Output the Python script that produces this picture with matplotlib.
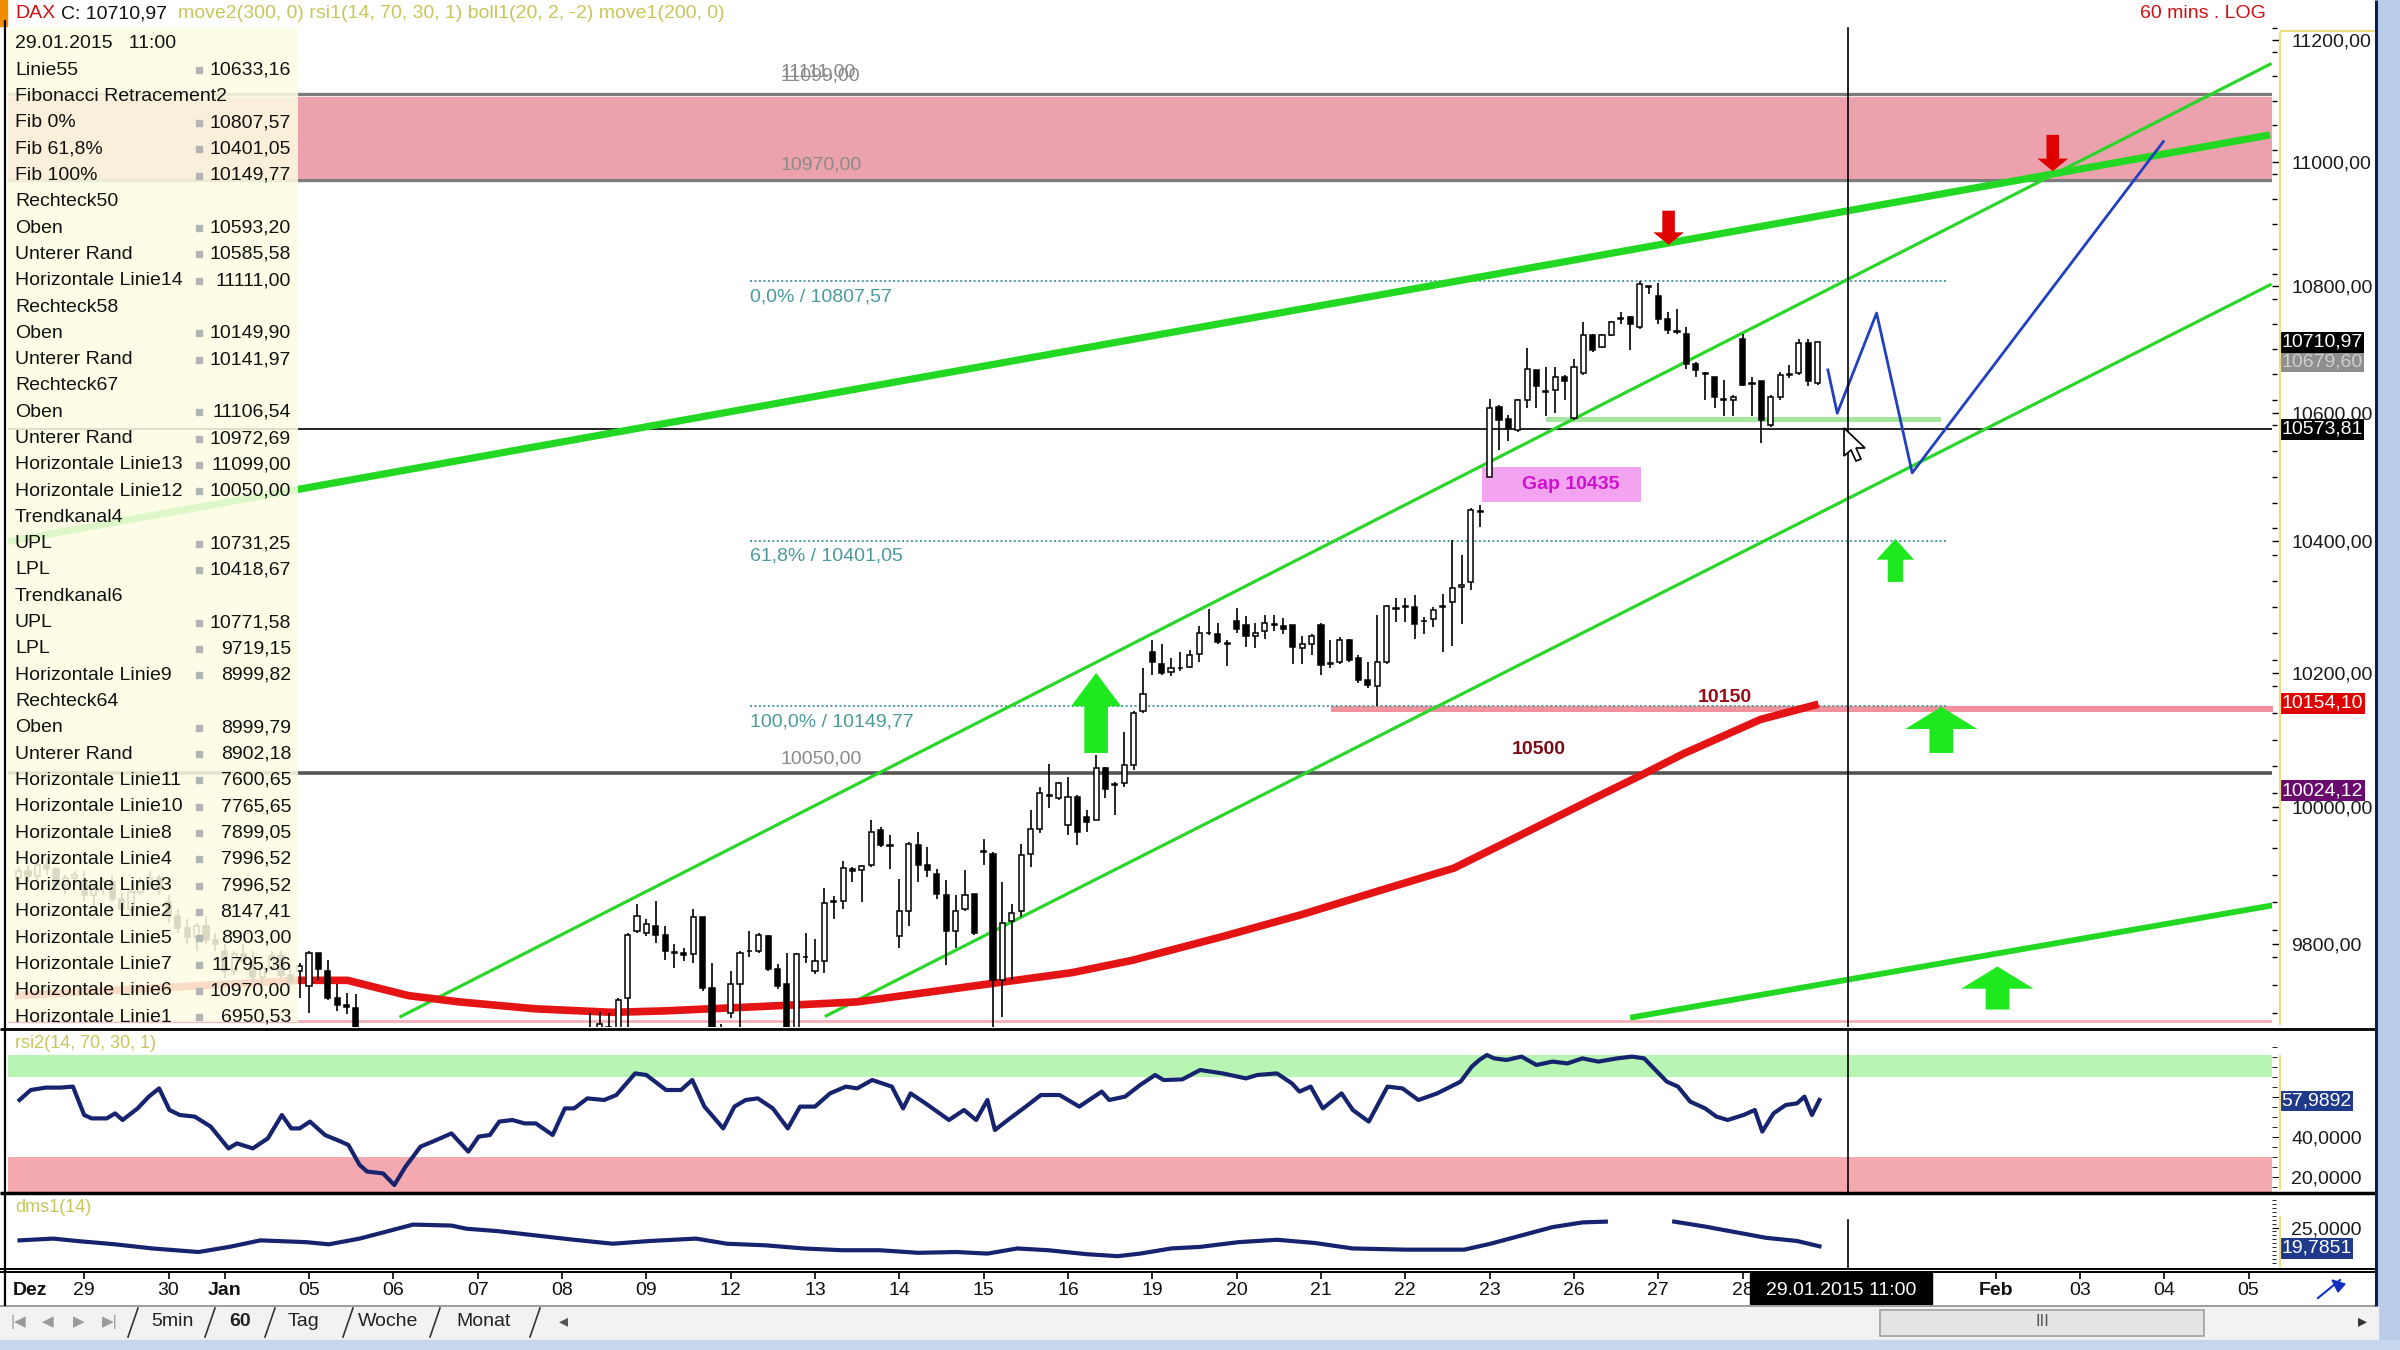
import matplotlib
matplotlib.use("Agg")
import matplotlib.pyplot as plt
from matplotlib.patches import Rectangle, Polygon
from matplotlib.ticker import FixedLocator, FuncFormatter, NullFormatter
from matplotlib.transforms import blended_transform_factory
import numpy as np

plt.rcParams['font.family'] = ['Liberation Sans', 'DejaVu Sans']
plt.rcParams['font.size'] = 14

# ---- hourly candles, x = bar number (Dez 29 09:00 = 0, 9 bars per day) ----
candle_bar = list(range(-7, 30)) + list(range(54, 186))
candle_open = [9895, 9905, 9898, 9915, 9908, 9885, 9895,
               9890, 9870, 9880, 9890, 9865, 9850, 9875, 9890, 9895,
               9860, 9840, 9822, 9810, 9825, 9805,
               9790, 9760, 9785, 9775, 9752, 9765, 9782, 9755, 9760,
               9739, 9787, 9760, 9722, 9712, 9707,
               9650, 9668, 9680, 9660, 9722, 9818,
               9816, 9826, 9813, 9788, 9786, 9785, 9838, 9736, 9670,
               9700, 9741, 9789, 9789, 9811, 9763, 9741, 9670, 9780,
               9760, 9775, 9860, 9862, 9908, 9907, 9914, 9966, 9944,
               9811, 9848, 9944, 9914, 9902, 9870, 9818, 9850, 9872,
               9935, 9931, 9747, 9833, 9847, 9931, 9968, 10016, 10013,
               9973, 10015, 9985, 9981, 10057, 10034, 10035, 10062, 10143,
               10232, 10214, 10202, 10207, 10209, 10229, 10260, 10259, 10244,
               10278, 10273, 10256, 10264, 10273, 10271, 10273, 10237, 10244,
               10273, 10215, 10217, 10249, 10222, 10190, 10180, 10217, 10297,
               10300, 10300, 10278, 10282, 10300, 10307, 10330, 10338, 10446,
               10500, 10609, 10590, 10573, 10620, 10667, 10633, 10636, 10656,
               10591, 10662, 10722, 10703, 10722, 10748, 10750, 10735, 10800,
               10784, 10748, 10727, 10724, 10677, 10662, 10656, 10620, 10620,
               10716, 10646, 10649, 10581, 10625, 10659, 10662, 10709, 10646]
candle_high = [9912, 9915, 9920, 9925, 9912, 9900, 9905,
               9905, 9885, 9895, 9900, 9875, 9880, 9895, 9905, 9900,
               9870, 9850, 9835, 9830, 9840, 9815,
               9800, 9790, 9800, 9790, 9770, 9790, 9790, 9770, 9772,
               9789, 9787, 9777, 9741, 9729, 9727,
               9700, 9702, 9700, 9722, 9816, 9857,
               9835, 9862, 9826, 9799, 9794, 9850, 9838, 9772, 9684,
               9760, 9789, 9818, 9816, 9813, 9770, 9787, 9787, 9816,
               9806, 9881, 9869, 9920, 9912, 9914, 9980, 9971, 9958,
               9894, 9948, 9963, 9941, 9909, 9892, 9870, 9907, 9872,
               9953, 9934, 9889, 9857, 9946, 9995, 10030, 10064, 10037,
               10045, 10017, 9995, 10077, 10059, 10037, 10111, 10143, 10208,
               10249, 10244, 10222, 10232, 10234, 10271, 10296, 10276, 10249,
               10298, 10286, 10276, 10288, 10288, 10283, 10273, 10256, 10259,
               10276, 10249, 10254, 10251, 10227, 10217, 10288, 10303, 10313,
               10313, 10318, 10284, 10300, 10320, 10402, 10379, 10451, 10456,
               10622, 10612, 10596, 10622, 10701, 10667, 10672, 10672, 10659,
               10685, 10743, 10724, 10724, 10745, 10758, 10753, 10808, 10800,
               10805, 10758, 10763, 10735, 10680, 10664, 10656, 10651, 10628,
               10724, 10656, 10649, 10628, 10664, 10675, 10716, 10716, 10709]
candle_low = [9880, 9890, 9892, 9900, 9880, 9872, 9885,
              9860, 9855, 9870, 9860, 9840, 9845, 9870, 9880, 9870,
              9830, 9815, 9800, 9790, 9800, 9790,
              9750, 9755, 9770, 9745, 9740, 9760, 9750, 9735, 9722,
              9700, 9748, 9719, 9703, 9698, 9640,
              9640, 9660, 9655, 9650, 9675, 9816,
              9811, 9801, 9777, 9765, 9775, 9772, 9732, 9640, 9640,
              9693, 9660, 9780, 9787, 9760, 9734, 9650, 9650, 9772,
              9756, 9758, 9835, 9850, 9889, 9860, 9912, 9941, 9909,
              9793, 9825, 9889, 9897, 9865, 9769, 9793, 9848, 9813,
              9914, 9675, 9695, 9747, 9838, 9912, 9961, 9998, 10010,
              9958, 9944, 9963, 9981, 10013, 9988, 10030, 10054, 10140,
              10197, 10197, 10195, 10203, 10207, 10217, 10258, 10244, 10210,
              10261, 10239, 10237, 10251, 10264, 10259, 10214, 10214, 10227,
              10197, 10207, 10214, 10217, 10185, 10177, 10150, 10214, 10277,
              10277, 10251, 10259, 10269, 10231, 10241, 10274, 10325, 10423,
              10500, 10542, 10555, 10570, 10607, 10607, 10594, 10599, 10620,
              10589, 10659, 10696, 10701, 10720, 10740, 10698, 10732, 10787,
              10740, 10724, 10724, 10669, 10656, 10620, 10607, 10594, 10594,
              10641, 10594, 10552, 10578, 10620, 10654, 10659, 10641, 10643]
candle_close = [9905, 9898, 9915, 9908, 9885, 9895, 9900,
                9870, 9880, 9890, 9865, 9850, 9875, 9890, 9895, 9880,
                9840, 9822, 9810, 9825, 9805, 9800,
                9760, 9785, 9775, 9752, 9765, 9782, 9755, 9745, 9768,
                9787, 9763, 9722, 9712, 9708, 9650,
                9670, 9685, 9672, 9719, 9813, 9840,
                9828, 9813, 9789, 9786, 9784, 9838, 9736, 9660, 9655,
                9741, 9787, 9790, 9813, 9763, 9739, 9670, 9785, 9781,
                9775, 9859, 9862, 9910, 9906, 9913, 9963, 9944, 9943,
                9848, 9946, 9914, 9907, 9872, 9818, 9848, 9870, 9816,
                9934, 9747, 9830, 9845, 9929, 9968, 10020, 10017, 10035,
                10015, 9963, 9978, 10057, 10027, 10032, 10062, 10140, 10168,
                10217, 10200, 10207, 10208, 10227, 10261, 10261, 10246, 10245,
                10266, 10256, 10261, 10276, 10274, 10266, 10239, 10244, 10256,
                10212, 10214, 10249, 10219, 10190, 10182, 10217, 10301, 10298,
                10301, 10274, 10279, 10295, 10301, 10328, 10334, 10448, 10447,
                10607, 10589, 10576, 10620, 10668, 10641, 10634, 10656, 10649,
                10672, 10722, 10698, 10722, 10743, 10749, 10740, 10803, 10798,
                10748, 10730, 10728, 10677, 10667, 10661, 10625, 10621, 10624,
                10643, 10645, 10589, 10625, 10659, 10660, 10709, 10649, 10711]

# moving average move1(200)
ma_bar = [-7.4, 22.9, 28.1, 34.6, 40.0, 48.2, 56.4, 61.8, 76.5, 82.5, 97.2, 105.4,
          111.9, 121.7, 129.9, 138.0, 146.2, 152.8, 160.9, 166.6, 170.7, 178.9, 185.1]
ma_val = [9725, 9747, 9747, 9725, 9716, 9706, 9701, 9703, 9712, 9716, 9743, 9758,
          9776, 9811, 9842, 9876, 9910, 9955, 10011, 10050, 10079, 10130, 10153]

# trend lines (bar, value) end points
trend_thick_bar = [-8.1, 233.3]
trend_thick_val = [10400, 11044]
chan_upper_bar = [33.8, 233.3]
chan_upper_val = [9695, 11160]
chan_lower_bar = [79.2, 233.3]
chan_lower_val = [9696, 10802]
trend_low_bar = [165.3, 233.3]
trend_low_val = [9694, 9855]

# hand drawn forecast
proj_bar = [186.1, 187.1, 191.3, 195.1, 221.9]
proj_val = [10667, 10599, 10757, 10506, 11033]

# levels
fib_vals = [10807.57, 10401.05, 10149.77]
fib_labels = ['0,0% / 10807,57', '61,8% / 10401,05', '100,0% / 10149,77']
fib_range = [71.1, 198.8]
gray_levels = [11111.00, 11099.00, 10970.00]
rect67 = [10972.69, 11106.54]
rect58 = [10141.97, 10149.90]
rect50 = [10585.58, 10593.20]
level12 = 10050.00
last_line = 10573.81
gap_box = [149.2, 166.2, 10461, 10515]

up_bar = [108.0, 193.3, 198.2, 204.2]
up_from = [10080, 10338, 10080, 9705]
up_to = [10200, 10404, 10149, 9767]
down_bar = [169.1, 210.1]
down_from = [10921, 11044]
down_to = [10866, 10985]

# rsi2(14,70,30,1)
rsi_bar = [-6.9, -5.7, -4.1, -2.5, -1.2, 0.0, 0.8, 2.4, 3.3, 4.1, 5.7, 6.9, 8.0, 9.1, 10.2,
           11.8, 13.5, 15.4, 16.3, 18.0, 19.6, 21.1, 22.1, 23.0, 24.1, 25.7, 27.4, 28.2,
           29.4, 30.2, 31.9, 33.1, 34.3, 35.9, 37.2, 39.2, 41.0, 42.1, 43.3, 44.3, 45.7,
           47.0, 48.2, 50.0, 51.3, 52.3, 53.7, 55.5, 56.8, 58.8, 60.0, 62.1, 63.7, 64.9,
           66.2, 68.2, 69.4, 70.6, 71.9, 73.5, 75.1, 76.4, 78.0, 79.6, 81.3, 82.5, 84.1,
           86.2, 87.4, 88.2, 89.8, 92.3, 93.9, 95.2, 96.4, 97.2, 98.8, 100.5, 102.1,
           104.1, 106.2, 107.0, 108.6, 109.4, 111.1, 112.7, 114.3, 115.2, 117.2, 119.1,
           121.5, 124.0, 125.2, 127.3, 128.9, 129.7, 130.9, 132.2, 134.2, 135.4, 137.1,
           139.1, 140.7, 142.4, 144.4, 146.9, 148.1, 148.9, 149.7, 150.5, 151.8, 153.4,
           155.0, 156.7, 158.3, 159.9, 161.6, 163.6, 165.2, 166.5, 167.7, 168.9, 170.1,
           171.4, 173.0, 174.2, 175.4, 177.1, 178.3, 179.1, 180.3, 181.6, 182.8, 183.6,
           184.4, 185.2]
rsi_val = [58.5, 63.5, 64.7, 64.7, 65.2, 51.0, 49.3, 49.3, 51.8, 48.5, 54.3, 60.2, 64.3,
           53.5, 51.0, 50.2, 45.2, 34.3, 36.8, 34.3, 39.3, 51.0, 44.3, 44.3, 47.7, 41.0,
           37.7, 36.0, 26.0, 22.7, 21.8, 16.0, 25.2, 35.2, 37.7, 41.8, 32.7, 40.2, 41.0,
           47.7, 48.5, 46.8, 46.8, 41.0, 54.3, 54.3, 59.3, 58.5, 61.0, 71.8, 71.0, 63.5,
           63.5, 68.5, 55.2, 44.3, 55.2, 58.5, 59.3, 54.3, 44.3, 55.2, 55.2, 61.8, 65.2,
           64.3, 68.5, 65.2, 54.3, 61.8, 56.8, 48.5, 53.5, 48.5, 58.5, 43.5, 49.3, 55.2,
           61.0, 61.0, 55.2, 57.7, 62.7, 58.5, 60.2, 66.0, 71.0, 68.5, 68.8, 73.5, 71.8,
           69.3, 71.0, 71.8, 66.8, 62.7, 65.2, 54.3, 61.8, 53.5, 47.7, 65.2, 64.3, 58.5,
           61.8, 67.7, 75.2, 78.5, 81.0, 79.3, 78.5, 80.2, 76.0, 77.7, 76.8, 79.3, 77.7,
           79.3, 80.2, 79.3, 73.5, 67.7, 65.2, 57.7, 54.3, 50.2, 48.5, 51.0, 53.5, 42.7,
           51.8, 56.0, 56.8, 60.2, 51.0, 58.5]

# dms1(14)
dms_bar = [-6.9, -3.3, -0.8, 3.3, 7.3, 12.2, 15.5, 18.8, 23.7, 26.1, 29.4, 32.7, 35.1,
           39.2, 40.8, 44.1, 48.2, 52.3, 56.4, 60.4, 65.3, 68.6, 72.7, 76.8, 80.9, 84.9,
           89.0, 93.1, 96.4, 99.6, 102.9, 107.0, 110.3, 112.7, 116.0, 119.1, 123.2,
           127.3, 131.3, 135.4, 141.1, 147.3, 150.1, 153.4, 156.7, 159.9, 162.4, 166.0,
           169.7, 173.0, 176.3, 179.5, 182.8, 185.2]
dms_val = [21.75, 22.2, 21.6, 20.75, 19.7, 18.8, 20.1, 21.75, 21.3, 20.75, 22.2, 24.25,
           25.75, 25.5, 24.7, 24.1, 23.0, 21.9, 20.9, 21.6, 22.2, 20.9, 20.5, 19.7, 19.25,
           19.25, 18.6, 18.8, 18.4, 19.7, 19.25, 18.25, 17.75, 18.4, 19.7, 20.1, 21.3,
           21.9, 21.1, 19.7, 19.4, 19.4, 20.9, 23.0, 25.1, 26.3, 26.5, np.nan, 26.5,
           25.25, 23.8, 22.4, 21.6, 20.25]

# day labels (29 and 30 Jan sit under the cursor date box)
day_bar = [-5.8, 0, 9, 15, 24, 33, 42, 51, 60, 69, 78, 87, 96, 105, 114, 123, 132, 141,
           150, 159, 168, 177, 204, 213, 222, 231]
day_lab = ['Dez', '29', '30', 'Jan', '05', '06', '07', '08', '09', '12', '13', '14', '15',
           '16', '19', '20', '21', '22', '23', '26', '27', '28', 'Feb', '03', '04', '05']
day_ticks = [0, 9, 15, 24, 33, 42, 51, 60, 69, 78, 87, 96, 105, 114, 123, 132, 141, 150,
             159, 168, 177, 186, 195, 204, 213, 222, 231]
cursor_bar = 188.3

legend_rows = [
    ('29.01.2015   11:00', ''), ('Linie55', '10633,16'), ('Fibonacci Retracement2', ''),
    ('Fib 0%', '10807,57'), ('Fib 61,8%', '10401,05'), ('Fib 100%', '10149,77'),
    ('Rechteck50', ''), ('Oben', '10593,20'), ('Unterer Rand', '10585,58'),
    ('Horizontale Linie14', '11111,00'), ('Rechteck58', ''), ('Oben', '10149,90'),
    ('Unterer Rand', '10141,97'), ('Rechteck67', ''), ('Oben', '11106,54'),
    ('Unterer Rand', '10972,69'), ('Horizontale Linie13', '11099,00'),
    ('Horizontale Linie12', '10050,00'), ('Trendkanal4', ''), ('UPL', '10731,25'),
    ('LPL', '10418,67'), ('Trendkanal6', ''), ('UPL', '10771,58'), ('LPL', '9719,15'),
    ('Horizontale Linie9', '8999,82'), ('Rechteck64', ''), ('Oben', '8999,79'),
    ('Unterer Rand', '8902,18'), ('Horizontale Linie11', '7600,65'),
    ('Horizontale Linie10', '7765,65'), ('Horizontale Linie8', '7899,05'),
    ('Horizontale Linie4', '7996,52'), ('Horizontale Linie3', '7996,52'),
    ('Horizontale Linie2', '8147,41'), ('Horizontale Linie5', '8903,00'),
    ('Horizontale Linie7', '11795,36'), ('Horizontale Linie6', '10970,00'),
    ('Horizontale Linie1', '6950,53')]

price_boxes = [10679.60, 10710.97, 10573.81, 10154.10, 10024.12]
price_box_bg = ['#8E8E8E', 'black', 'black', '#E00000', '#6A0A6E']
price_box_fg = ['#CFCFCF', 'white', 'white', 'white', 'white']


def de(dec):
    return FuncFormatter(lambda v, p: f"{v:.{dec}f}".replace('.', ','))


W, H = 2400, 1350
fig = plt.figure(figsize=(24, 13.5), dpi=100)
fig.patch.set_facecolor('white')


def box(x0, y0, x1, y1):
    return [x0 / W, 1 - y1 / H, (x1 - x0) / W, (y1 - y0) / H]


ax = fig.add_axes(box(8, 2, 2272, 1027))
ax_rsi = fig.add_axes(box(8, 1031, 2272, 1192), sharex=ax)
ax_dms = fig.add_axes(box(8, 1194, 2272, 1268), sharex=ax)
ax_t = fig.add_axes(box(8, 1272, 2272, 1305), sharex=ax)

ax.set_yscale('log')
ax.set_xlim(-8.13, 233.5)
ax.set_ylim(9680, 11263)

for a in (ax, ax_rsi, ax_dms, ax_t):
    for s in a.spines.values():
        s.set_visible(False)
    a.tick_params(axis='x', bottom=False, top=False, labelbottom=False)

# ---- main panel ----
ax.hlines(gray_levels, -9, 240, colors='#7C7C7C', lw=2.4, zorder=2)
ax.axhspan(rect67[0], rect67[1], color='#EBA2AC', lw=0, zorder=2.5)
ax.axhline(level12, color='#555555', lw=2.6, zorder=2)
ax.axhline(last_line, color='black', lw=1.2, zorder=2)
ax.axhline(9688, color='#F2B0B8', lw=2, zorder=2)
ax.fill_between([133.1, 240], rect58[0], rect58[1], color='#F2919E', lw=0, zorder=2)
ax.fill_between([156.0, 198.2], rect50[0], rect50[1], color='#A6E6A0', lw=0, zorder=2)

ax.hlines(fib_vals, fib_range[0], fib_range[1], colors='#4C9CA0', linestyles=(0, (1, 1.3)), lw=1.4, zorder=3)
for v, t in zip(fib_vals, fib_labels):
    ax.annotate(t, (fib_range[0], v), xytext=(0, -5), textcoords='offset points',
                color='#4A9A9E', fontsize=14, va='top', ha='left', zorder=4)
for v, t, dy in zip(gray_levels + [level12], ['11111,00', '11099,00', '10970,00', '10050,00'],
                    [10, 12, 5, 4]):
    ax.annotate(t, (74.3, v), xytext=(0, dy), textcoords='offset points',
                color='#8A8A8A', fontsize=14, va='bottom', ha='left', zorder=4)

ax.add_patch(Rectangle((gap_box[0], gap_box[2]), gap_box[1] - gap_box[0], gap_box[3] - gap_box[2],
                       color='#F2A4F0', lw=0, zorder=3))
ax.text((gap_box[0] + gap_box[1]) / 2 + 1, np.sqrt(gap_box[2] * gap_box[3]), 'Gap 10435',
        color='#D010D0', fontsize=14, fontweight='bold', ha='center', va='center', zorder=8)

ax.plot(trend_thick_bar, trend_thick_val, color='#22D822', lw=5.2, zorder=4, solid_capstyle='butt')
ax.plot(chan_upper_bar, chan_upper_val, color='#2AD62A', lw=2.3, zorder=4)
ax.plot(chan_lower_bar, chan_lower_val, color='#2AD62A', lw=2.3, zorder=4)
ax.plot(trend_low_bar, trend_low_val, color='#22D822', lw=4.2, zorder=4)

ax.plot(ma_bar, ma_val, color='#E51414', lw=5.5, zorder=4.5, solid_capstyle='butt')

cb = np.array(candle_bar, dtype=float)
co = np.array(candle_open, dtype=float)
ch = np.array(candle_high, dtype=float)
cl = np.array(candle_low, dtype=float)
cc = np.array(candle_close, dtype=float)
ax.vlines(cb, cl, ch, color='black', lw=1.2, zorder=5)
lo = np.minimum(co, cc)
hgt = np.maximum(np.abs(cc - co), 0.8)
ax.bar(cb, hgt, bottom=lo, width=0.55, color=np.where(cc >= co, 'white', 'black'),
       edgecolor='black', linewidth=1.1, zorder=6)

ax.plot(proj_bar, proj_val, color='#2040C0', lw=2, zorder=7)

ax.text(175.1, 10150, '10150', color='#9A0A14', fontsize=14, fontweight='bold', ha='center',
        va='bottom', zorder=8)
ax.text(155.2, 10085, '10500', color='#7A0A14', fontsize=14, fontweight='bold', ha='center',
        va='center', zorder=8)

for b, f, t in zip(up_bar, up_from, up_to):
    if b < 120:
        hw, hl, tw = 36, 24, 17
    elif b < 195:
        hw, hl, tw = 27, 15, 11
    else:
        hw, hl, tw = 52, 16, 17
    ax.annotate('', xy=(b, t), xytext=(b, f),
                arrowprops=dict(arrowstyle=f'simple,head_length={hl},head_width={hw},tail_width={tw}',
                                fc='#1EE81E', ec='none', shrinkA=0, shrinkB=0, mutation_scale=1),
                zorder=8)
for b, f, t in zip(down_bar, down_from, down_to):
    ax.annotate('', xy=(b, t), xytext=(b, f),
                arrowprops=dict(arrowstyle='simple,head_length=9,head_width=22,tail_width=9',
                                fc='#E00000', ec='none', shrinkA=0, shrinkB=0, mutation_scale=1),
                zorder=8)

ax.axvline(cursor_bar, ymax=0.975, color='black', lw=1.2, zorder=9)

ax.yaxis.set_major_locator(FixedLocator([9800, 10000, 10200, 10400, 10600, 10800, 11000, 11200]))
ax.yaxis.set_major_formatter(de(2))
ax.yaxis.set_minor_locator(FixedLocator(np.arange(9700, 11260, 40)))
ax.yaxis.set_minor_formatter(NullFormatter())
ax.yaxis.tick_right()
ax.tick_params(axis='y', which='major', length=6, width=1, pad=8, labelsize=14, labelcolor='#1A1A1A')
ax.tick_params(axis='y', which='minor', length=3.5, width=1)

for v, bg, fg in zip(price_boxes, price_box_bg, price_box_fg):
    ax.text(1.004, v, f"{v:.2f}".replace('.', ','), transform=ax.get_yaxis_transform(),
            ha='left', va='center', fontsize=14, color=fg, zorder=10, clip_on=False,
            bbox=dict(boxstyle='square,pad=0.1', fc=bg, ec='none'))

# ---- rsi panel ----
ax_rsi.set_ylim(12.5, 93)
ax_rsi.axhspan(70, 81, color='#B8F5B2', lw=0)
ax_rsi.axhspan(0, 30, color='#F4A8B0', lw=0)
ax_rsi.plot(rsi_bar, rsi_val, color='#16236E', lw=3)
ax_rsi.axvline(cursor_bar, color='black', lw=1.2)
ax_rsi.yaxis.set_major_locator(FixedLocator([20, 40, 60]))
ax_rsi.yaxis.set_major_formatter(FuncFormatter(lambda v, p: '' if v == 60 else f"{v:.4f}".replace('.', ',')))
ax_rsi.yaxis.set_minor_locator(FixedLocator(np.arange(15, 90, 5)))
ax_rsi.yaxis.tick_right()
ax_rsi.tick_params(axis='y', which='major', length=6, pad=8, labelsize=14, labelcolor='#1A1A1A')
ax_rsi.tick_params(axis='y', which='minor', length=3.5)
ax_rsi.text(1.004, 57.9892, '57,9892', transform=ax_rsi.get_yaxis_transform(), ha='left',
            va='center', fontsize=14, color='white', clip_on=False, zorder=10,
            bbox=dict(boxstyle='square,pad=0.1', fc='#1F3A8A', ec='none'))

# ---- dms panel ----
ax_dms.set_ylim(14.75, 33.5)
ax_dms.plot(dms_bar, dms_val, color='#16236E', lw=3)
ax_dms.axvline(cursor_bar, ymax=0.65, color='black', lw=1.2)
ax_dms.yaxis.set_major_locator(FixedLocator([25]))
ax_dms.yaxis.set_major_formatter(de(4))
ax_dms.yaxis.set_minor_locator(FixedLocator(np.arange(16, 33, 1)))
ax_dms.yaxis.tick_right()
ax_dms.tick_params(axis='y', which='major', length=6, pad=8, labelsize=14, labelcolor='#1A1A1A')
ax_dms.tick_params(axis='y', which='minor', length=3)
ax_dms.text(1.004, 19.7851, '19,7851', transform=ax_dms.get_yaxis_transform(), ha='left',
            va='center', fontsize=14, color='white', clip_on=False, zorder=10,
            bbox=dict(boxstyle='square,pad=0.1', fc='#1F3A8A', ec='none'))

# ---- time axis ----
ax_t.set_yticks([])
ax_t.set_xticks(day_ticks)
ax_t.tick_params(axis='x', top=True, bottom=False, direction='in', length=5, width=1.2,
                 labelbottom=False, labeltop=False)
tr = blended_transform_factory(ax_t.transData, ax_t.transAxes)
for b, t in zip(day_bar, day_lab):
    ax_t.text(b, 0.45, t, transform=tr, ha='center', va='center', fontsize=14,
              fontweight='bold' if t in ('Dez', 'Jan', 'Feb') else 'normal', color='#111111')
ax_t.add_patch(Rectangle((cursor_bar - 10.5, 0.02), 19.4, 0.96, transform=tr, color='black', zorder=5))
ax_t.text(cursor_bar - 0.8, 0.45, '29.01.2015 11:00', transform=tr, ha='center', va='center',
          fontsize=14, color='white', zorder=6)

# ---- window chrome / overlay ----
ov = fig.add_axes([0, 0, 1, 1], zorder=20)
ov.set_xlim(0, W)
ov.set_ylim(H, 0)
ov.axis('off')

ov.add_patch(Rectangle((8, 28), 290, 994, fc='#FDFDE4', ec='none', alpha=0.86))
for i, (name, val) in enumerate(legend_rows):
    y = 44 + i * 26.3
    ov.text(15, y, name, fontsize=14, va='center', ha='left', color='#111111')
    if val:
        ov.add_patch(Rectangle((196, y - 3), 6, 6, color='#B4B4B4'))
        ov.text(291, y, val, fontsize=14, va='center', ha='right', color='#111111')

ov.add_patch(Rectangle((0, 0), 7, 26, color='#F08C00'))
ov.text(15, 14, 'DAX', color='#D01010', fontsize=14, va='center')
ov.text(61, 14, 'C: 10710,97', color='#111111', fontsize=14, va='center')
ov.text(178, 14, 'move2(300, 0) rsi1(14, 70, 30, 1) boll1(20, 2, -2) move1(200, 0)',
        color='#C8C65A', fontsize=14, va='center')
ov.text(2266, 14, '60 mins . LOG', color='#D01010', fontsize=14, va='center', ha='right')
ov.text(15, 1043, 'rsi2(14, 70, 30, 1)', color='#C8C65A', fontsize=13, va='center')
ov.text(15, 1208, 'dms1(14)', color='#C8C65A', fontsize=13, va='center')

ov.hlines(1029, 0, 2376, color='black', lw=2)
ov.hlines(1192.5, 0, 2376, color='black', lw=2.5)
ov.hlines([1269, 1272], 0, 2376, color='black', lw=1.4)
ov.hlines(1306, 0, 2376, color='#8C8C8C', lw=1.2)
ov.vlines(5, 20, 1306, color='black', lw=1.6)
ov.vlines(2280, 32, 1025, color='#EEDD80', lw=1.6)
ov.hlines(31, 2280, 2376, color='#EEDD80', lw=1.6)
ov.vlines(2280, 1055, 1190, color='#EEDD80', lw=1.6)
ov.vlines(2280, 1216, 1267, color='#EEDD80', lw=1.6)
ov.vlines(2376, 0, 1306, color='#0C1C5C', lw=2.2)

ov.add_patch(Rectangle((2378, 0), 22, 1350, color='#B9CDE8'))
ov.add_patch(Rectangle((0, 1307), 2378, 33, color='#F2F2F2'))
ov.add_patch(Rectangle((0, 1340), 2400, 10, color='#C6D6EC'))
for x, g in zip([18, 48, 79, 110], ['|◀', '◀', '▶', '▶|']):
    ov.text(x, 1322, g, color='#9A9A9A', fontsize=11, ha='center', va='center')
for x0 in [128, 205, 265, 343, 430, 530]:
    ov.plot([x0, x0 + 10], [1337, 1308], color='#333333', lw=1.2)
for x, t, fw in zip([172, 240, 304, 388, 484], ['5min', '60', 'Tag', 'Woche', 'Monat'],
                    ['normal', 'bold', 'normal', 'normal', 'normal']):
    ov.text(x, 1322, t, fontsize=14, ha='center', va='center', fontweight=fw, color='#222222')
ov.text(563, 1322, '◂', fontsize=13, ha='center', va='center', color='#555555')
ov.add_patch(Rectangle((1880, 1310), 324, 26, fc='#E4E4E4', ec='#A0A0A0', lw=1.2))
ov.text(2042, 1322, 'III', fontsize=12, ha='center', va='center', color='#555555')
ov.text(2362, 1322, '▸', fontsize=13, ha='center', va='center', color='#333333')
ov.plot([2318, 2340], [1298, 1280], color='#1030C0', lw=1.5)
ov.add_patch(Polygon([[2332, 1280], [2345, 1284], [2338, 1292]], color='#1030C0'))

ov.add_patch(Polygon([[1844, 428], [1844, 456], [1851, 450], [1856, 461], [1861, 459],
                      [1856, 448], [1865, 448]], closed=True, fc='white', ec='black', lw=1.2))

fig.savefig('out.png', dpi=100)
